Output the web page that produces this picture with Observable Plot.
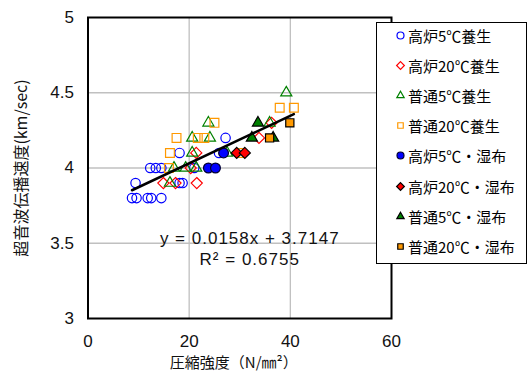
<!DOCTYPE html>
<html><head><meta charset="utf-8">
<script src="https://cdn.jsdelivr.net/npm/d3@7"></script>
<script src="https://cdn.jsdelivr.net/npm/@observablehq/plot@0.6"></script>
<style>
body{margin:0;background:#fff;}
#chart{position:relative;width:530px;height:374px;font-family:"Noto Sans CJK JP",sans-serif;}
#legend{position:absolute;left:376px;top:22px;width:151px;height:242px;border:1px solid #000;background:#fff;box-sizing:border-box;}
.li{position:absolute;left:0;height:20px;display:flex;align-items:center;font-size:15px;color:#000;white-space:nowrap;line-height:1;}
.li svg{margin-left:18px;margin-right:2px;}
</style></head><body><div id="chart"><div id="legend"></div></div>
<script>
// ---- data ----
const seriesNames = ["高炉5℃養生","高炉20℃養生","普通5℃養生","普通20℃養生","高炉5℃・湿布","高炉20℃・湿布","普通5℃・湿布","普通20℃・湿布"];
const blast5Cured = [[8.7,3.8],[9.6,3.8],[11.8,3.8],[12.5,3.8],[14.5,3.8],[9.4,3.9],[18.1,3.9],[18.7,3.9],[12.3,4.0],[13.4,4.0],[14.5,4.0],[21.0,4.0],[18.1,4.1],[25.9,4.1],[27.2,4.2]];
const blast20Cured = [[14.9,3.9],[17.3,3.9],[21.5,3.9],[20.3,4.0],[21.4,4.1],[33.8,4.2],[36.3,4.3]];
const normal5Cured = [[16.2,3.9],[17.0,4.0],[19.3,4.0],[21.4,4.0],[20.6,4.1],[27.5,4.1],[20.6,4.2],[24.1,4.2],[23.8,4.3],[35.9,4.3],[39.2,4.5]];
const normal20Cured = [[16.0,4.0],[16.2,4.1],[30.1,4.1],[17.5,4.2],[21.7,4.2],[23.0,4.2],[25.0,4.3],[37.9,4.4],[40.7,4.4]];
const blast5Wet = [[23.8,4.0],[25.2,4.0],[26.8,4.1]];
const blast20Wet = [[29.4,4.1],[31.0,4.1]];
const normal5Wet = [[32.4,4.2],[36.6,4.2],[33.6,4.3]];
const normal20Wet = [[35.9,4.2],[39.9,4.3]];
const slope = 0.0158, intercept = 3.7147, r2 = 0.6755;
const xTicks = [0,20,40,60];
const yTicks = [3,3.5,4,4.5,5];
const xLabel = "圧縮強度（N/㎜²）";
const yLabel = "超音波伝播速度(km/sec)";

// ---- styles ----
const BLUE="#0000ff", RED="#ff0000", GREEN="#008000", ORANGE="#ff9900";
const NUMFONT='"Liberation Sans",Arial,sans-serif';
const CJKFONT='"Noto Sans CJK JP",sans-serif';
const styles = [
  {data:blast5Cured, symbol:"circle", r:4.7, fill:"none", stroke:BLUE},
  {data:blast20Cured, symbol:"diamond2", r:5.0, fill:"none", stroke:RED},
  {data:normal5Cured, symbol:"triangle2", r:5.3, fill:"none", stroke:GREEN},
  {data:normal20Cured, symbol:"square2", r:5.6, fill:"none", stroke:ORANGE},
  {data:blast5Wet, symbol:"circle", r:4.9, fill:BLUE, stroke:"#000033"},
  {data:blast20Wet, symbol:"diamond2", r:5.0, fill:RED, stroke:"#000"},
  {data:normal5Wet, symbol:"triangle2", r:5.3, fill:GREEN, stroke:"#000"},
  {data:normal20Wet, symbol:"square2", r:5.2, fill:ORANGE, stroke:"#000"}
];

const allPts = styles.flatMap(s => s.data);
const xs = d3.extent(allPts, d => d[0]);
const trend = xs.map(x => ({x, y: slope*x + intercept}));
const fmt = v => String(v);

const plot = Plot.plot({
  width:530, height:374,
  marginLeft:87.5, marginRight:139, marginTop:17, marginBottom:56,
  style:{fontFamily:NUMFONT, fontSize:"16px", color:"#111", background:"transparent"},
  x:{domain:[0,60], label:null},
  y:{domain:[3,5], label:null},
  marks:[
    Plot.gridX(xTicks.slice(1,-1), {stroke:"#c0c0c0", strokeOpacity:1, strokeWidth:1.3}),
    Plot.gridY(yTicks.slice(1,-1), {stroke:"#c0c0c0", strokeOpacity:1, strokeWidth:1.3}),
    Plot.axisX(xTicks, {tickSize:0, tickPadding:16, fontSize:17, label:null}),
    Plot.axisY(yTicks, {tickSize:0, tickPadding:14, fontSize:17, label:null, tickFormat:fmt}),
    ...styles.map(s => Plot.dot(s.data, {x:d=>d[0], y:d=>d[1], symbol:()=>s.symbol, r:s.r, fill:s.fill, stroke:s.stroke, strokeWidth:1.2})),
    Plot.line(trend, {x:"x", y:"y", stroke:"#000", strokeWidth:2.5}),
    Plot.text([`y = ${slope}x + ${intercept}`], {frameAnchor:"bottom", lineAnchor:"middle", textAnchor:"middle", dx:10, dy:-80, fontSize:17, fill:"#111"}),
    Plot.text([`R² = ${r2}`], {frameAnchor:"bottom", lineAnchor:"middle", textAnchor:"middle", dx:10, dy:-59, fontSize:17, fill:"#111"}),
    Plot.frame({stroke:"#000", strokeWidth:2}),
    Plot.text([xLabel], {frameAnchor:"bottom", lineAnchor:"middle", textAnchor:"middle", dx:-6, dy:45, fontSize:15, fill:"#111", fontFamily:CJKFONT}),
    Plot.text([yLabel], {frameAnchor:"left", lineAnchor:"middle", textAnchor:"middle", dx:-66, rotate:-90, fontSize:16, fill:"#111", fontFamily:CJKFONT})
  ]
});
document.getElementById("chart").prepend(plot);
plot.style.position="absolute"; plot.style.left="0"; plot.style.top="0";
d3.select(plot).selectAll("text").filter(function(){ const t=this.textContent; return t.startsWith("y =") || t.startsWith("R²"); })
  .style("letter-spacing","1.0px");

// ---- legend ----
const legend = d3.select("#legend");
const symMap = {circle:d3.symbolCircle, diamond2:d3.symbolDiamond2, triangle2:d3.symbolTriangle2, square2:d3.symbolSquare2};
seriesNames.forEach((name,i) => {
  const s = styles[i];
  const row = legend.append("div").attr("class","li").style("top", (2 + i*30.2) + "px");
  const svg = row.append("svg").attr("width",11).attr("height",11);
  svg.append("path")
    .attr("transform","translate(5.5,5.5)")
    .attr("d", d3.symbol(symMap[s.symbol], Math.PI*3.5*3.5)())
    .attr("fill", s.fill).attr("stroke", s.stroke).attr("stroke-width",1.2);
  row.append("span").text(name);
});
</script></body></html>
